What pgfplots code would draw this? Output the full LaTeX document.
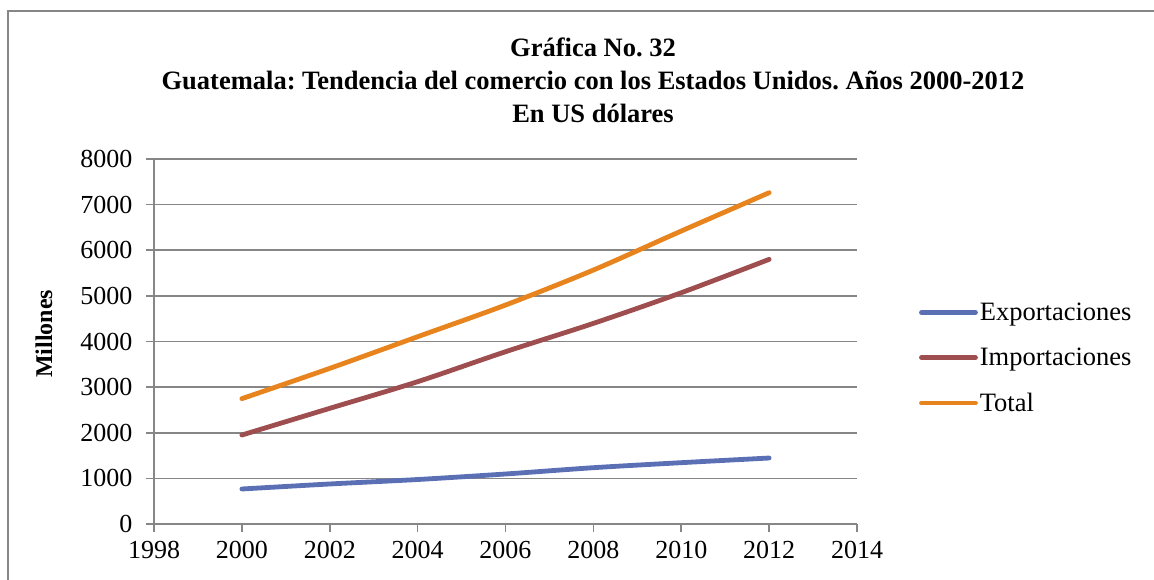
\documentclass[border=0pt]{standalone}
\usepackage{fontspec}
\setmainfont{Liberation Serif}
\usepackage{pgfplots}
\pgfplotsset{compat=1.18}
\definecolor{cblue}{RGB}{90,111,180}
\definecolor{cred}{RGB}{158,78,78}
\definecolor{corange}{RGB}{232,132,30}
\definecolor{cgrid}{RGB}{134,134,134}
\frenchspacing
\begin{document}
\begin{tikzpicture}[x=1pt,y=1pt]
\useasboundingbox (0,0) rectangle (1154,580);
\draw[cgrid,line width=1.5pt] (8,-5) -- (8,569) -- (1160,569);
\node[font=\bfseries\fontsize{26.5}{30}\selectfont] at (593,533) {Gráfica No. 32};
\node[font=\bfseries\fontsize{26.5}{30}\selectfont] at (593,500) {Guatemala: Tendencia del comercio con los Estados Unidos. Años 2000-2012};
\node[font=\bfseries\fontsize{26.5}{30}\selectfont] at (593,467) {En US dólares};
\node[font=\bfseries\fontsize{24}{28}\selectfont,rotate=90] at (44,246) {Millones};
\begin{axis}[
  at={(154pt,56pt)}, anchor=south west,
  scale only axis, width=703pt, height=365pt,
  xmin=1998, xmax=2014, ymin=0, ymax=8000,
  xtick={1998,2000,...,2014}, ytick={0,1000,...,8000},
  axis x line*=bottom, axis y line*=left,
  axis line style={cgrid,line width=1.6pt,-},
  ymajorgrids, grid style={cgrid,line width=1.6pt},
  tick align=outside, major tick length=8pt,
  tick style={cgrid,line width=1.6pt},
  x tick label style={/pgf/number format/1000 sep={}},
  y tick label style={/pgf/number format/1000 sep={}},
  /pgf/number format/assume math mode=true,
  ticklabel style={font=\fontsize{26}{30}\selectfont},
  xticklabel style={yshift=-6pt},
  yticklabel style={xshift=-10pt},
  legend style={at={(1.088,0.455)}, anchor=west, draw=none, fill=none,
    font=\fontsize{26.5}{30}\selectfont, row sep=22pt, inner sep=0pt},
  legend cell align=left,
  legend image code/.code={\draw[#1,line cap=round] (0pt,0pt) -- (54pt,0pt);},
]
\addplot[cblue, line width=4.8pt, smooth, line cap=round] coordinates {
(2000,767) (2002,877) (2004,975) (2006,1096) (2008,1234) (2010,1344) (2012,1446)};
\addlegendentry{Exportaciones}
\addplot[cred, line width=4.8pt, smooth, line cap=round] coordinates {
(2000,1950) (2002,2535) (2004,3119) (2006,3776) (2008,4397) (2010,5069) (2012,5800)};
\addlegendentry{Importaciones}
\addplot[corange, line width=4.8pt, smooth, line cap=round] coordinates {
(2000,2747) (2002,3411) (2004,4105) (2006,4799) (2008,5566) (2010,6421) (2012,7261)};
\addlegendentry{Total}
\end{axis}
\end{tikzpicture}
\end{document}
